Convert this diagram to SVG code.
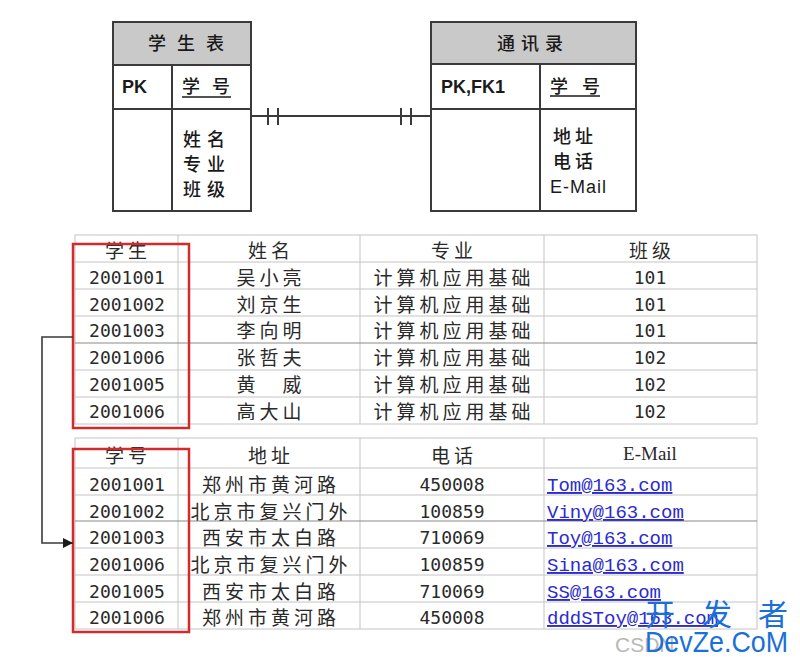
<svg xmlns="http://www.w3.org/2000/svg" width="800" height="663" viewBox="0 0 800 663">
<defs>
<style>
.box{fill:#fff;stroke:#3a3a3a;stroke-width:2}
.hdr{fill:#c9c9c9;stroke:#3a3a3a;stroke-width:2}
.ln{stroke:#3a3a3a;stroke-width:2;fill:none}
.er{font-family:"Noto Sans CJK SC","Liberation Sans",sans-serif;font-size:18px;font-weight:500;fill:#1a1a1a}
.b{font-family:"Liberation Sans",Arial,sans-serif;font-size:18px;font-weight:bold;fill:#1a1a1a}
.grid{stroke:#c4c4c4;stroke-width:1;fill:none}
.dk{stroke:#8a8a8a;stroke-width:1.2}
.cj{font-family:"Noto Sans CJK SC",sans-serif;font-size:19px;letter-spacing:4px;fill:#2a2a2a;text-anchor:middle}
.num{font-family:"DejaVu Sans Mono",monospace;font-size:18px;fill:#2a2a2a;text-anchor:middle}
.mail{font-family:"Liberation Mono","Courier New",monospace;font-size:19px;fill:#2b2bcf;text-decoration:underline}
.red{fill:none;stroke:#d22b2b;stroke-width:2.5}
.conn{stroke:#3a3a3a;stroke-width:1.6;fill:none}
.wm{font-family:"Noto Sans CJK SC",sans-serif;font-size:30px;fill:#1b6fd8}
</style>
<marker id="ah" viewBox="0 0 10 10" refX="10" refY="5" markerWidth="10" markerHeight="10" markerUnits="userSpaceOnUse" orient="auto">
<path d="M0,0 L10,5 L0,10 z" fill="#1a1a1a"/>
</marker>
</defs>
<rect width="800" height="663" fill="#fff"/>

<g id="student-entity">
<rect class="box" x="113" y="22" width="138" height="189"/>
<rect class="hdr" x="113" y="22" width="138" height="43"/>
<line class="ln" x1="113" y1="109" x2="251" y2="109"/>
<line class="ln" x1="172" y1="65" x2="172" y2="211"/>
<text class="er" x="148" y="50" letter-spacing="11">学生表</text>
<text class="b" x="122" y="93">PK</text>
<text class="er" x="182" y="93" letter-spacing="12">学号</text>
<line x1="182" y1="97" x2="231" y2="97" stroke="#1a1a1a" stroke-width="1.5"/>
<text class="er" x="183" y="146" letter-spacing="6">姓名</text>
<text class="er" x="183" y="171" letter-spacing="6">专业</text>
<text class="er" x="183" y="196" letter-spacing="6">班级</text>
</g>

<g id="contact-entity">
<rect class="box" x="431" y="22" width="205" height="189"/>
<rect class="hdr" x="431" y="22" width="205" height="42"/>
<line class="ln" x1="431" y1="109" x2="636" y2="109"/>
<line class="ln" x1="540" y1="64" x2="540" y2="211"/>
<text class="er" x="497" y="50" letter-spacing="6">通讯录</text>
<text class="b" x="441" y="93">PK,FK1</text>
<text class="er" x="550" y="93" letter-spacing="14">学号</text>
<line x1="550" y1="96" x2="600" y2="96" stroke="#1a1a1a" stroke-width="1.5"/>
<text class="er" x="553" y="143" letter-spacing="4">地址</text>
<text class="er" x="553" y="168" letter-spacing="4">电话</text>
<text x="550" y="193" font-family="Liberation Sans,Arial,sans-serif" font-size="18" fill="#1a1a1a" letter-spacing="1">E-Mail</text>
</g>

<g id="student-table">
<rect class="grid" x="75" y="235" width="682" height="189"/>
<line class="grid" x1="178" y1="235" x2="178" y2="424"/>
<line class="grid" x1="360" y1="235" x2="360" y2="424"/>
<line class="grid" x1="544" y1="235" x2="544" y2="424"/>
<line class="grid" x1="75" y1="262" x2="757" y2="262"/>
<line class="grid" x1="75" y1="289" x2="757" y2="289"/>
<line class="grid" x1="75" y1="316" x2="757" y2="316"/>
<line class="grid dk" x1="75" y1="343" x2="757" y2="343"/>
<line class="grid" x1="75" y1="370" x2="757" y2="370"/>
<line class="grid" x1="75" y1="397" x2="757" y2="397"/>
<text class="cj" x="128" y="258">学生</text>
<text class="cj" x="271" y="258">姓名</text>
<text class="cj" x="454" y="258">专业</text>
<text class="cj" x="652" y="258">班级</text>
<text class="num" x="127" y="284">2001001</text>
<text class="num" x="127" y="311">2001002</text>
<text class="num" x="127" y="337">2001003</text>
<text class="num" x="127" y="364">2001006</text>
<text class="num" x="127" y="391">2001005</text>
<text class="num" x="127" y="418">2001006</text>
<text class="cj" x="271" y="285">吴小亮</text>
<text class="cj" x="271" y="312">刘京生</text>
<text class="cj" x="271" y="338">李向明</text>
<text class="cj" x="271" y="365">张哲夫</text>
<text class="cj" x="271" y="392">黄　威</text>
<text class="cj" x="271" y="419">高大山</text>
<text class="cj" x="454" y="285">计算机应用基础</text>
<text class="cj" x="454" y="312">计算机应用基础</text>
<text class="cj" x="454" y="338">计算机应用基础</text>
<text class="cj" x="454" y="365">计算机应用基础</text>
<text class="cj" x="454" y="392">计算机应用基础</text>
<text class="cj" x="454" y="419">计算机应用基础</text>
<text class="num" x="650" y="284">101</text>
<text class="num" x="650" y="311">101</text>
<text class="num" x="650" y="337">101</text>
<text class="num" x="650" y="364">102</text>
<text class="num" x="650" y="391">102</text>
<text class="num" x="650" y="418">102</text>
</g>

<g id="contact-table">
<rect class="grid" x="75" y="438" width="682" height="191"/>
<line class="grid" x1="178" y1="438" x2="178" y2="629"/>
<line class="grid" x1="360" y1="438" x2="360" y2="629"/>
<line class="grid" x1="544" y1="438" x2="544" y2="629"/>
<line class="grid" x1="75" y1="468" x2="757" y2="468"/>
<line class="grid" x1="75" y1="495" x2="757" y2="495"/>
<line class="grid dk" x1="75" y1="521" x2="757" y2="521"/>
<line class="grid" x1="75" y1="548" x2="757" y2="548"/>
<line class="grid" x1="75" y1="575" x2="757" y2="575"/>
<line class="grid" x1="75" y1="602" x2="757" y2="602"/>
<text class="cj" x="128" y="463">学号</text>
<text class="cj" x="271" y="463">地址</text>
<text class="cj" x="454" y="463">电话</text>
<text x="650" y="460" font-family="Liberation Serif,Times New Roman,serif" font-size="19" fill="#2a2a2a" text-anchor="middle">E-Mail</text>
<text class="num" x="127" y="491">2001001</text>
<text class="num" x="127" y="518">2001002</text>
<text class="num" x="127" y="544">2001003</text>
<text class="num" x="127" y="571">2001006</text>
<text class="num" x="127" y="598">2001005</text>
<text class="num" x="127" y="624">2001006</text>
<text class="cj" x="271" y="492">郑州市黄河路</text>
<text class="cj" x="271" y="519">北京市复兴门外</text>
<text class="cj" x="271" y="545">西安市太白路</text>
<text class="cj" x="271" y="572">北京市复兴门外</text>
<text class="cj" x="271" y="599">西安市太白路</text>
<text class="cj" x="271" y="625">郑州市黄河路</text>
<text class="num" x="452" y="491">450008</text>
<text class="num" x="452" y="518">100859</text>
<text class="num" x="452" y="544">710069</text>
<text class="num" x="452" y="571">100859</text>
<text class="num" x="452" y="598">710069</text>
<text class="num" x="452" y="624">450008</text>
<text class="mail" x="547" y="491">Tom@163.com</text>
<text class="mail" x="547" y="518">Viny@163.com</text>
<text class="mail" x="547" y="544">Toy@163.com</text>
<text class="mail" x="547" y="571">Sina@163.com</text>
<text class="mail" x="547" y="598">SS@163.com</text>
<text class="mail" x="547" y="624">dddSToy@163.com</text>
</g>

<g id="highlights">
<rect class="red" x="73" y="244" width="116" height="184"/>
<rect class="red" x="73" y="449" width="116" height="183"/>
</g>

<g id="connectors">
<line class="ln" x1="251" y1="116" x2="431" y2="116"/>
<line class="ln" x1="268" y1="108" x2="268" y2="125"/>
<line class="ln" x1="278" y1="108" x2="278" y2="125"/>
<line class="ln" x1="401" y1="108" x2="401" y2="125"/>
<line class="ln" x1="411" y1="108" x2="411" y2="125"/>
<polyline class="conn" points="73,337 42,337 42,543 73,543" marker-end="url(#ah)"/>
</g>

<g id="watermark">
<text x="615" y="652" font-family="Liberation Sans,Arial,sans-serif" font-size="21" fill="#b8b8b8">CSDN</text>
<text class="wm" x="645 702 758" y="625">开发者</text>
<text x="645" y="652" font-family="Liberation Sans,Arial,sans-serif" font-size="30" fill="#1b6fd8" textLength="143" lengthAdjust="spacingAndGlyphs">DevZe.CoM</text>
</g>
</svg>
